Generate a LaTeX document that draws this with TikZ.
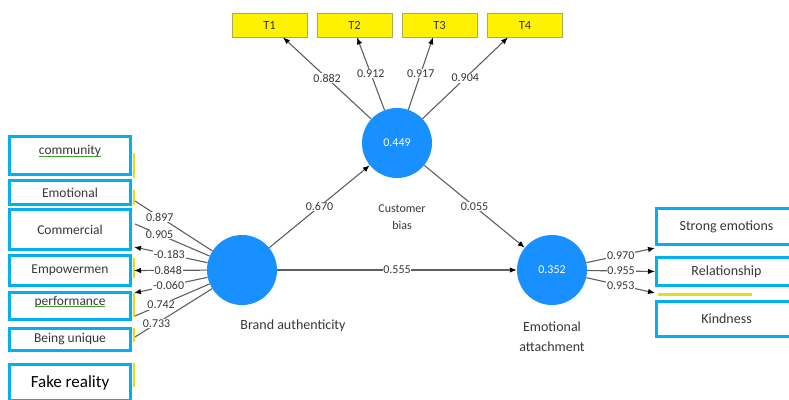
\documentclass[tikz,border=0pt]{standalone}
\usepackage{fontspec}
\setmainfont{Carlito}
\usetikzlibrary{arrows.meta,positioning,calc}

\definecolor{lvblue}{RGB}{24,144,255}
\definecolor{indblue}{RGB}{0,176,240}
\definecolor{textgray}{RGB}{55,55,55}
\definecolor{linegray}{RGB}{95,95,95}
\definecolor{spellgreen}{RGB}{60,165,40}
\definecolor{tboxline}{RGB}{170,170,90}

\newcommand{\spellmark}[1]{{\color{spellgreen}\underline{\smash{\color{textgray}#1}}}}

\begin{document}
\begin{tikzpicture}[
  x=1pt, y=-1pt,
  font=\fontsize{12}{14}\selectfont,
  >={Latex[length=7pt,width=5.5pt,color=black]},
  latent/.style={circle, fill=lvblue, minimum size=70pt, inner sep=0pt, text=white, font=\fontsize{12}{14}\selectfont},
  latentName/.style={text=textgray, align=center, font=\fontsize{14}{20}\selectfont},
  indbox/.style={draw=indblue, line width=3pt, fill=white, minimum width=121pt, inner sep=1pt, text=textgray, font=\fontsize{13.5}{15}\selectfont},
  indboxWide/.style={indbox, minimum width=140pt, font=\fontsize{14}{15}\selectfont},
  tbox/.style={draw=tboxline, line width=0.6pt, fill=yellow, minimum width=75pt, minimum height=24pt, inner sep=1pt, text=textgray, font=\fontsize{12.5}{14}\selectfont},
  path/.style={draw=linegray, line width=1.1pt},
  arrow/.style={path, ->},
  wt/.style={fill=white, inner sep=0.8pt, text=textgray, font=\fontsize{12}{13}\selectfont},
  yellowstrip/.style={draw=yellow!90!black, line width=2pt},
]
\useasboundingbox (0,0) rectangle (789,399);

% --- latent variables ---
\node[latent] (ba) at (242,270) {};
\node[latent] (cb) at (397,143) {0.449};
\node[latent] (ea) at (552,270) {0.352};
\node[latentName] (baLbl) at (293,326) {Brand authenticity};
\node[latentName, font=\fontsize{12}{17}\selectfont] (cbLbl) at (402,217) {Customer\\bias};
\node[latentName] (eaLbl) at (552,337) {Emotional\\attachment};

% --- indicator boxes: Brand authenticity ---
\node[indbox, minimum height=38pt] (comm) at (70,155.5) {\spellmark{community}};
\node[indbox, minimum height=24pt] (emo) at (70,192.5) {Emotional};
\node[indbox, minimum height=40pt] (comr) at (70,229.5) {Commercial};
\node[indbox, minimum height=30pt] (emp) at (70,270.5) {Empowermen};
\node[indbox, minimum height=27pt] (perf) at (70,306) {\spellmark{performance}};
\node[indbox, minimum height=22pt] (uniq) at (70,339.5) {Being unique};
\node[indbox, minimum height=36pt, text=black, font=\fontsize{17}{19}\selectfont] (fake) at (70,382.5) {Fake reality};

\draw[yellowstrip] (133.5,153) -- (133.5,178);
\draw[yellowstrip] (133.5,190) -- (133.5,205);
\draw[yellowstrip] (133.5,258) -- (133.5,278);
\draw[yellowstrip] (133.5,293) -- (133.5,317);
\draw[yellowstrip] (133.5,328) -- (133.5,342);
\draw[yellowstrip] (133.5,363) -- (133.5,387);

% --- indicator boxes: Customer bias ---
\node[tbox] (t1) at (269.5,25) {T1};
\node[tbox] (t2) at (354.5,25) {T2};
\node[tbox] (t3) at (439.5,25) {T3};
\node[tbox] (t4) at (525,25) {T4};

% --- indicator boxes: Emotional attachment ---
\node[indboxWide, minimum height=36pt] (strong) at (726.5,226.5) {Strong emotions};
\node[indboxWide, minimum height=28pt] (rel) at (726.5,271.5) {Relationship};
\node[indboxWide, minimum height=35pt] (kind) at (726.5,319) {Kindness};
\draw[yellowstrip, line width=2.5pt] (658,294.5) -- (752,294.5);

% --- outer loadings ---
\draw[path] (ba) -- ([xshift=3pt,yshift=-8.5pt]emo.east) node[wt, pos=0.68] {0.897};
\draw[path] (ba) -- ([xshift=3pt,yshift=5.5pt]comr.east) node[wt, pos=0.67] {0.905};
\draw[arrow] (ba) -- ([xshift=2pt,yshift=-17.5pt]comr.east) node[wt, pos=0.52] {-0.183};
\draw[arrow] (ba) -- ([xshift=2pt]emp.east) node[wt, pos=0.53] {0.848};
\draw[arrow] (ba) -- ([xshift=2pt,yshift=13pt]perf.east) node[wt, pos=0.53] {-0.060};
\draw[path] (ba) -- ([xshift=3pt,yshift=-10pt]perf.east) node[wt, pos=0.65] {0.742};
\draw[path] (ba) -- ([xshift=3pt,yshift=2.5pt]uniq.east) node[wt, pos=0.72] {0.733};

\draw[arrow] (cb) -- ([xshift=13.5pt]t1.south) node[wt, pos=0.5] {0.882};
\draw[arrow] (cb) -- ([xshift=2.5pt]t2.south) node[wt, pos=0.5] {0.912};
\draw[arrow] (cb) -- ([xshift=-6.5pt]t3.south) node[wt, pos=0.5] {0.917};
\draw[arrow] (cb) -- ([xshift=-17pt]t4.south) node[wt, pos=0.5] {0.904};

\draw[arrow] (ea) -- ([yshift=-21.5pt]strong.west) node[wt, pos=0.5] {0.970};
\draw[arrow] (ea) -- (rel.west) node[wt, pos=0.5] {0.955};
\draw[arrow] (ea) -- ([yshift=-21.5pt]rel.west) node[wt, pos=0.5] {0.953};

% --- inner model ---
\draw[arrow] (ba) -- (cb) node[wt, pos=0.5] {0.670};
\draw[arrow] (cb) -- (ea) node[wt, pos=0.5] {0.055};
\draw[arrow] (ba) -- (ea) node[wt, pos=0.5] {0.555};

\end{tikzpicture}
\end{document}
